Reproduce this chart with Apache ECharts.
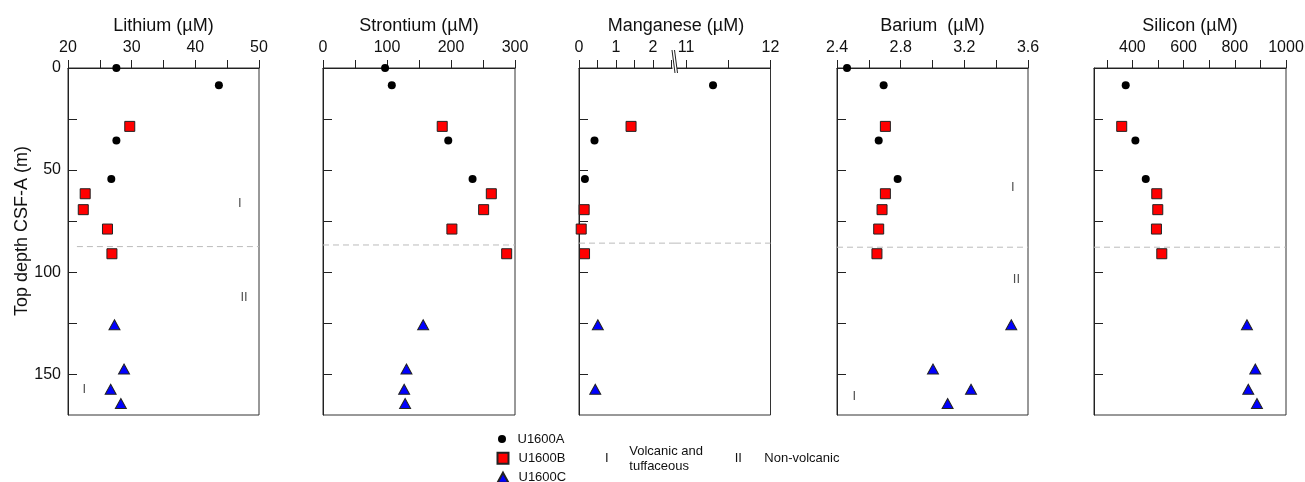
<!DOCTYPE html>
<html><head><meta charset="utf-8">
<script src="https://cdn.jsdelivr.net/npm/echarts@6/dist/echarts.min.js"></script>
<style>html,body{margin:0;padding:0;background:#fff}#c{width:1305px;height:482px}</style>
</head><body><div id="c"></div>
<script>
// ---- data ----
const depthA = [0, 8.5, 35.5, 54.4];
const depthB = [28.6, 61.6, 69.4, 78.9, 91.0];
const depthC = [125.8, 147.5, 157.4, 164.4];

const lithiumA = [27.6, 43.7, 27.6, 26.8];
const lithiumB = [29.7, 22.7, 22.4, 26.2, 26.9];
const lithiumC = [27.3, 28.8, 26.7, 28.3];

const strontiumA = [97, 107.5, 195.7, 233.7];
const strontiumB = [186.3, 263, 251, 201.4, 287];
const strontiumC = [156.5, 130.4, 126.8, 128.3];

const manganeseA = [null, 11.32, 0.42, 0.16];
const manganeseB = [1.41, null, 0.14, 0.06, 0.15];
const manganeseC = [0.51, null, 0.44, null];

const bariumA = [2.463, 2.693, 2.662, 2.781];
const bariumB = [2.704, 2.704, 2.683, 2.662, 2.651];
const bariumC = [3.495, 3.003, 3.242, 3.095];

const siliconA = [null, 373.9, 411.7, 452.2];
const siliconB = [358.3, 495.2, 499.1, 493.9, 514.8];
const siliconC = [847.4, 880, 852.6, 886.5];

// unit boundary depth (dashed line) per panel
const boundaryDepth = [87.5, 86.7, 85.8, 87.8, 87.8];

// tick values / labels
const depthTicks = [0, 25, 50, 75, 100, 125, 150];
const depthLabels = [0, 50, 100, 150];
const liTicks = [20, 25, 30, 35, 40, 45, 50];
const liLabels = [20, 30, 40, 50];
const srTicks = [0, 50, 100, 150, 200, 250, 300];
const srLabels = [0, 100, 200, 300];
const mnLowTicks = [0, 0.5, 1, 1.5, 2, 2.5];
const mnLowLabels = [0, 1, 2];
const mnHighTicks = [11, 11.5, 12];
const mnHighLabels = [11, 12];
const baTicks = [2.4, 2.6, 2.8, 3.0, 3.2, 3.4, 3.6];
const baLabels = [2.4, 2.8, 3.2, 3.6];
const siTicks = [300, 400, 500, 600, 700, 800, 900, 1000];
const siLabels = [400, 600, 800, 1000];

// unit annotations: [value, depth, text]
const liUnits = [[47.0, 66.5, 'I'], [47.65, 112.4, 'II'], [22.56, 157.7, 'I']];
const baUnits = [[3.504, 58.5, 'I'], [3.527, 103.8, 'II'], [2.509, 161, 'I']];

const titles = ['Lithium (µM)', 'Strontium (µM)', 'Manganese (µM)', 'Barium  (µM)', 'Silicon (µM)'];
const siteNames = ['U1600A', 'U1600B', 'U1600C'];

// ---- layout ----
const FONT = '"Liberation Sans", Arial, Helvetica, sans-serif';
const TOP = 68, HEIGHT = 347, DEPTH_MAX = 170;
const MN_BREAK_LOW = 2.6, MN_BREAK_HIGH = 10.87;

const grids = [], xAxes = [], yAxes = [], series = [];

function addGrid(left, width, border) {
  grids.push({left: left, top: TOP, width: width, height: HEIGHT, show: border, borderColor: '#333', borderWidth: 1,
    backgroundColor: 'transparent', containLabel: false, outerBoundsMode: 'none'});
  return grids.length - 1;
}
function addAxes(gi, min, max, ticks, labels, opts) {
  opts = opts || {};
  xAxes.push({gridIndex: gi, type: 'value', position: 'top', min: min, max: max, show: opts.hidden ? false : true,
    axisLine: {show: true, lineStyle: {color: '#222', width: 1}},
    axisTick: {show: true, inside: false, length: 8, customValues: ticks, lineStyle: {color: '#222', width: 1}},
    axisLabel: {show: true, customValues: labels, margin: 12, fontSize: 16, color: '#111', fontFamily: FONT,
      formatter: opts.fmt || (v => String(v))},
    splitLine: {show: false}});
  yAxes.push({gridIndex: gi, type: 'value', inverse: true, min: 0, max: DEPTH_MAX, show: opts.hidden || opts.noY ? false : true,
    axisLine: {show: true, lineStyle: {color: '#222', width: 1}},
    axisTick: {show: true, inside: true, length: 9, customValues: depthTicks, lineStyle: {color: '#222', width: 1}},
    axisLabel: {show: !!opts.yLabels, customValues: depthLabels, margin: 7, fontSize: 16, color: '#111', fontFamily: FONT},
    splitLine: {show: false}});
}
function zip(vals, depths, filter) {
  const out = [];
  for (let i = 0; i < vals.length; i++) {
    if (vals[i] === null || vals[i] === undefined) continue;
    if (filter && !filter(vals[i])) continue;
    out.push([vals[i], depths[i]]);
  }
  return out;
}
const styles = [
  {symbol: 'circle', symbolSize: 8, itemStyle: {color: '#000', borderWidth: 0, opacity: 1}},
  {symbol: 'rect', symbolSize: 10, itemStyle: {color: '#ff0000', borderColor: '#222', borderWidth: 1, opacity: 1}},
  {symbol: 'triangle', symbolSize: [11, 10], itemStyle: {color: '#0000ff', borderColor: '#222', borderWidth: 1, opacity: 1}}
];
function addScatter(gi, arrs, filter) {
  const depths = [depthA, depthB, depthC];
  for (let s = 0; s < 3; s++) {
    series.push(Object.assign({type: 'scatter', name: siteNames[s], xAxisIndex: gi, yAxisIndex: gi,
      data: zip(arrs[s], depths[s], filter), z: 5 + s, emphasis: {disabled: true}}, styles[s]));
  }
}
function addBoundary(gi, min, max, d) {
  series.push({type: 'line', xAxisIndex: gi, yAxisIndex: gi, data: [[min, d], [max, d]], symbol: 'none', silent: true,
    lineStyle: {color: '#bbb', width: 1, type: [6, 4]}, z: 2});
}
function addUnits(gi, units) {
  series.push({type: 'scatter', xAxisIndex: gi, yAxisIndex: gi, symbolSize: 0, silent: true,
    data: units.map(u => ({value: [u[0], u[1]], name: u[2]})),
    label: {show: true, position: 'inside', formatter: p => p.name, fontSize: 13, color: '#222', fontFamily: FONT}});
}

// Lithium
let g = addGrid(68, 191, true);
addAxes(g, 20, 50, liTicks, liLabels, {yLabels: true});
addScatter(g, [lithiumA, lithiumB, lithiumC]);
addBoundary(g, 21.4, 50, boundaryDepth[0]);
addUnits(g, liUnits);
// Strontium
g = addGrid(323, 192, true);
addAxes(g, 0, 300, srTicks, srLabels);
addScatter(g, [strontiumA, strontiumB, strontiumC]);
addBoundary(g, 0, 300, boundaryDepth[1]);
// Manganese (broken axis: two grids + a box)
const mnBox = addGrid(579, 191.5, true);
addAxes(mnBox, 0, 1, [], [], {hidden: true});
g = addGrid(579, 96, false);
addAxes(g, 0, MN_BREAK_LOW, mnLowTicks, mnLowLabels);
addScatter(g, [manganeseA, manganeseB, manganeseC], v => v <= MN_BREAK_LOW);
addBoundary(g, 0, MN_BREAK_LOW, boundaryDepth[2]);
g = addGrid(675, 95.5, false);
addAxes(g, MN_BREAK_HIGH, 12, mnHighTicks, mnHighLabels, {noY: true});
addScatter(g, [manganeseA, manganeseB, manganeseC], v => v >= MN_BREAK_HIGH);
addBoundary(g, MN_BREAK_HIGH, 12, boundaryDepth[2]);
// Barium
g = addGrid(837, 191, true);
addAxes(g, 2.4, 3.6, baTicks, baLabels, {fmt: v => Number(v).toFixed(1)});
addScatter(g, [bariumA, bariumB, bariumC]);
addBoundary(g, 2.4, 3.6, boundaryDepth[3]);
addUnits(g, baUnits);
// Silicon
g = addGrid(1094, 192, true);
addAxes(g, 250, 1000, siTicks, siLabels);
addScatter(g, [siliconA, siliconB, siliconC]);
addBoundary(g, 250, 1000, boundaryDepth[4]);

const titleCenters = [163.5, 419, 676, 932.5, 1190];
const graphic = titles.map((t, i) => ({type: 'text', x: titleCenters[i], y: 26,
  style: {text: t, fontSize: 18, fill: '#111', fontFamily: FONT, align: 'center', verticalAlign: 'middle'}}));
graphic.push({type: 'text', x: 21.7, y: 231, rotation: Math.PI / 2,
  style: {text: 'Top depth CSF-A (m)', fontSize: 18, fill: '#111', fontFamily: FONT, align: 'center', verticalAlign: 'middle'}});
// axis break mark
graphic.push({type: 'rect', shape: {x: 672.5, y: 66, width: 4.5, height: 4}, style: {fill: '#fff'}, z: 100});
graphic.push({type: 'line', shape: {x1: 672, y1: 50, x2: 675, y2: 73}, style: {stroke: '#222', lineWidth: 1}, z: 101});
graphic.push({type: 'line', shape: {x1: 674.5, y1: 50, x2: 677.5, y2: 73}, style: {stroke: '#222', lineWidth: 1}, z: 101});
// legend descriptions
const lg = {fontSize: 13, fill: '#111', fontFamily: FONT, verticalAlign: 'middle'};
graphic.push({type: 'text', x: 606.7, y: 458.3, style: Object.assign({text: 'I', align: 'center'}, lg)});
graphic.push({type: 'text', x: 629.3, y: 451, style: Object.assign({text: 'Volcanic and', align: 'left'}, lg)});
graphic.push({type: 'text', x: 629.3, y: 466.7, style: Object.assign({text: 'tuffaceous', align: 'left'}, lg)});
graphic.push({type: 'text', x: 738.3, y: 458.3, style: Object.assign({text: 'II', align: 'center'}, lg)});
graphic.push({type: 'text', x: 764.3, y: 458.3, style: Object.assign({text: 'Non-volcanic', align: 'left'}, lg)});

// one legend per site so the list can run off the bottom edge like the reference
const legendCenterX = 502, legendTextX = 517.5, legendRowY = [439, 458.3, 477.7];
const legendIcon = [[8, 8], [11, 11], [11, 10]];
const legends = siteNames.map((n, i) => {
  const w = legendIcon[i][0], h = legendIcon[i][1];
  const rowH = 14;
  return {data: [n], orient: 'vertical', left: legendCenterX - w / 2, top: legendRowY[i] - rowH / 2, padding: 0,
    itemWidth: w, itemHeight: h, selectedMode: false,
    textStyle: {fontSize: 13, color: '#111', fontFamily: FONT, lineHeight: rowH,
      padding: [0, 0, 0, legendTextX - (legendCenterX + w / 2) - 5]}};
});

const chart = echarts.init(document.getElementById('c'), null, {renderer: 'canvas'});
chart.setOption({
  animation: false,
  backgroundColor: '#fff',
  grid: grids, xAxis: xAxes, yAxis: yAxes, series: series,
  legend: legends,
  graphic: graphic
});
</script></body></html>
